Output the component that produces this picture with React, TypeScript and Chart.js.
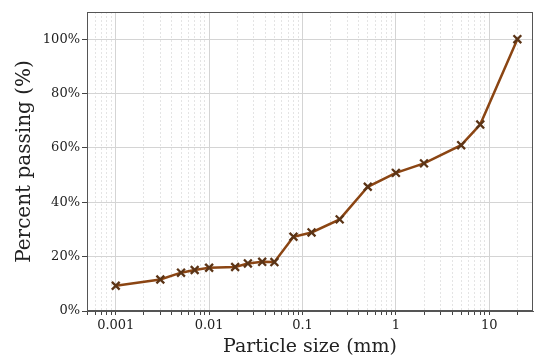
import React, { useEffect, useRef } from "react";
import { Chart, registerables } from "chart.js";

Chart.register(...registerables);

const particleSizes = [0.001, 0.003, 0.005, 0.007, 0.01, 0.019, 0.026, 0.037, 0.05, 0.08, 0.125, 0.25, 0.5, 1, 2, 5, 8, 20];
const percentPassing = [9.3, 11.6, 14.1, 15.1, 15.9, 16.2, 17.5, 18.1, 18.0, 27.3, 28.9, 33.7, 45.7, 50.8, 54.3, 61.0, 68.6, 100];
const xTickLabels = ["0.001", "0.01", "0.1", "1", "10"];
const yTickValues = [0, 20, 40, 60, 80, 100];

const FONT = "'DejaVu Serif', 'Liberation Serif', serif";

function isDecade(v: number) {
  const l = Math.log10(v);
  return Math.abs(l - Math.round(l)) < 1e-9;
}
function fmtDecade(v: number) {
  const e = Math.round(Math.log10(v));
  const s = e < 0 ? (Math.pow(10, e)).toFixed(-e) : String(Math.pow(10, e));
  return xTickLabels.includes(s) ? s : "";
}

function zeroPad(s: any) {
  s.paddingLeft = 0;
  s.paddingRight = 0;
  s.paddingTop = 0;
  s.paddingBottom = 0;
}

const frame = {
  id: "frame",
  afterDraw(chart: any) {
    const { ctx, chartArea } = chart;
    ctx.save();
    ctx.strokeStyle = "#555555";
    ctx.lineWidth = 1;
    ctx.strokeRect(chartArea.left + 0.5, chartArea.top + 0.5, chartArea.right - chartArea.left - 1, chartArea.bottom - chartArea.top - 1);
    ctx.restore();
  },
};

export default function App() {
  const ref = useRef<HTMLCanvasElement>(null);
  useEffect(() => {
    document.body.style.margin = "0";
    const canvas = ref.current!;
    const chart = new Chart(canvas, {
      type: "scatter",
      data: {
        datasets: [
          {
            data: particleSizes.map((x, i) => ({ x, y: percentPassing[i] })),
            showLine: true,
            borderColor: "#8B4513",
            borderWidth: 2.5,
            pointStyle: "crossRot",
            pointRadius: 5.5,
            pointBorderWidth: 2.3,
            pointBorderColor: "#5b3416",
            pointBackgroundColor: "#5b3416",
          },
        ],
      },
      options: {
        animation: false,
        responsive: false,
        maintainAspectRatio: false,
        layout: { autoPadding: false, padding: { top: 12, right: 3, left: 0, bottom: 0 } },
        plugins: { legend: { display: false }, tooltip: { enabled: false } },
        scales: {
          x: {
            type: "logarithmic",
            min: 0.000492,
            max: 29.4,
            afterFit: (s: any) => { s.height = 49; zeroPad(s); },
            afterBuildTicks: (s: any) => {
              const t: any[] = [];
              for (let e = -4; e <= 1; e++) {
                for (let m = 1; m <= 9; m++) {
                  const v = parseFloat((m * Math.pow(10, e)).toPrecision(6));
                  if (v >= s.min && v <= s.max) t.push({ value: v, major: m === 1 });
                }
              }
              s.ticks = t;
            },
            ticks: {
              autoSkip: false,
              maxRotation: 0,
              padding: 3,
              color: "#222",
              font: { family: FONT, size: 13 },
              callback: (v: any) => (isDecade(Number(v)) ? fmtDecade(Number(v)) : ""),
            },
            grid: {
              color: (c: any) => (c.tick && isDecade(c.tick.value) ? "#d4d4d4" : "#e4e4e4"),
              tickColor: "#444",
              tickLength: 4,
              lineWidth: 1,
            },
            border: {
              color: "#555",
              dash: (c: any) => (c.tick && !isDecade(c.tick.value) ? [2, 2] : []),
            },
            title: {
              display: true,
              text: "Particle size (mm)",
              color: "#222",
              font: { family: FONT, size: 19 },
              padding: { top: 0, bottom: 2 },
            },
          },
          y: {
            min: 0,
            max: 110,
            afterFit: (s: any) => { s.width = 87; zeroPad(s); },
            afterBuildTicks: (s: any) => {
              s.ticks = yTickValues.map((v) => ({ value: v }));
            },
            ticks: {
              padding: 2,
              color: "#222",
              font: { family: FONT, size: 13 },
              callback: (v: any) => v + "%",
            },
            grid: {
              color: "#d4d4d4",
              tickColor: "#444",
              tickLength: 5,
            },
            border: { color: "#555" },
            title: {
              display: true,
              text: "Percent passing (%)",
              color: "#222",
              font: { family: FONT, size: 20 },
              padding: { top: 13, bottom: 0 },
            },
          },
        },
      },
      plugins: [frame],
    });
    return () => chart.destroy();
  }, []);
  return <canvas ref={ref} width={536} height={360} style={{ display: "block" }} />;
}
